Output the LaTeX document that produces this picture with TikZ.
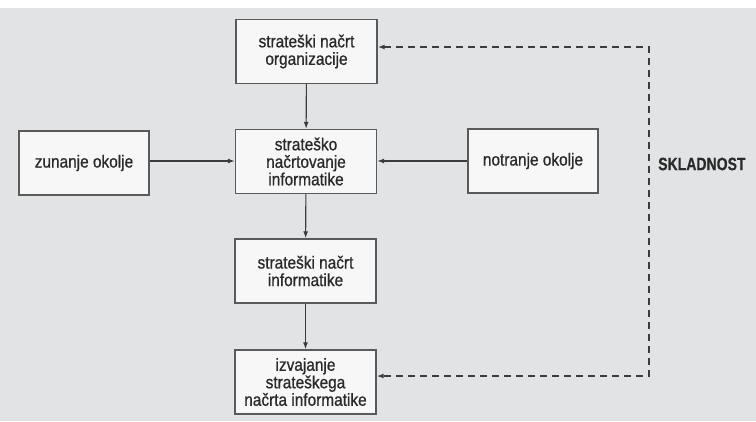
\documentclass[tikz,border=0pt]{standalone}
\usepackage{fontspec}
\setmainfont{Liberation Sans}
\newfontfamily\condfont[FakeStretch=0.88,FakeBold=0.8]{Liberation Sans}
\newfontfamily\condbold[FakeStretch=0.78,FakeBold=0.5]{Liberation Sans Bold}
\usetikzlibrary{arrows.meta}
\definecolor{bgc}{HTML}{E1E3E5}
\definecolor{linec}{HTML}{3C3C3C}
\definecolor{boxc}{HTML}{5A5A5A}
\definecolor{txtc}{HTML}{2A2A2A}
\begin{document}
\begin{tikzpicture}[x=1pt,y=-1pt,
  box/.style={draw=boxc,line width=1.4pt,fill=white!97!black,minimum width=141pt,minimum height=64pt,
    inner sep=0pt,align=center,text=txtc,font=\condfont\fontsize{17.5}{17.5}\selectfont},
  sidebox/.style={box,minimum width=130pt},
  arr/.style={draw=linec,line width=1.1pt,-{Latex[length=7pt,width=5pt]}},
  darr/.style={draw=linec,line width=1.4pt,dash pattern=on 7pt off 5pt,{Latex[length=7pt,width=5pt]}-{Latex[length=7pt,width=5pt]}}]
\fill[bgc] (0,0) rectangle (756,421);
\fill[white] (0,0) rectangle (756,8);
\useasboundingbox (0,0) rectangle (756,421);
\node[box] (b1) at (306.5,51.5) {strateški načrt\\organizacije};
\node[box] (b2) at (306,161.5) {strateško\\načrtovanje\\informatike};
\node[sidebox] (zun) at (84,163) {zunanje okolje};
\node[sidebox] (not) at (533,161) {notranje okolje};
\node[box] (b3) at (305.5,271) {strateški načrt\\informatike};
\node[box] (b4) at (305.5,382) {izvajanje\\strateškega\\načrta informatike};
\coordinate (c1) at (649,47);
\coordinate (c2) at (649,376);
\node[anchor=west,text=txtc,font=\condbold\fontsize{18}{18}\selectfont,inner sep=0pt] (skl) at (658,164) {SKLADNOST};
\draw[arr] (b1) -- (b2);
\draw[arr] (b2) -- (b3);
\draw[arr] (b3) -- (b4);
\draw[arr] (zun.east |- 0,161) -- (b2.west |- 0,161);
\draw[arr] (not.west |- 0,161) -- (b2.east |- 0,161);
\draw[darr] (b1.east |- c1) -- (c1) -- (c2) -- (b4.east |- c2);
\end{tikzpicture}
\end{document}
